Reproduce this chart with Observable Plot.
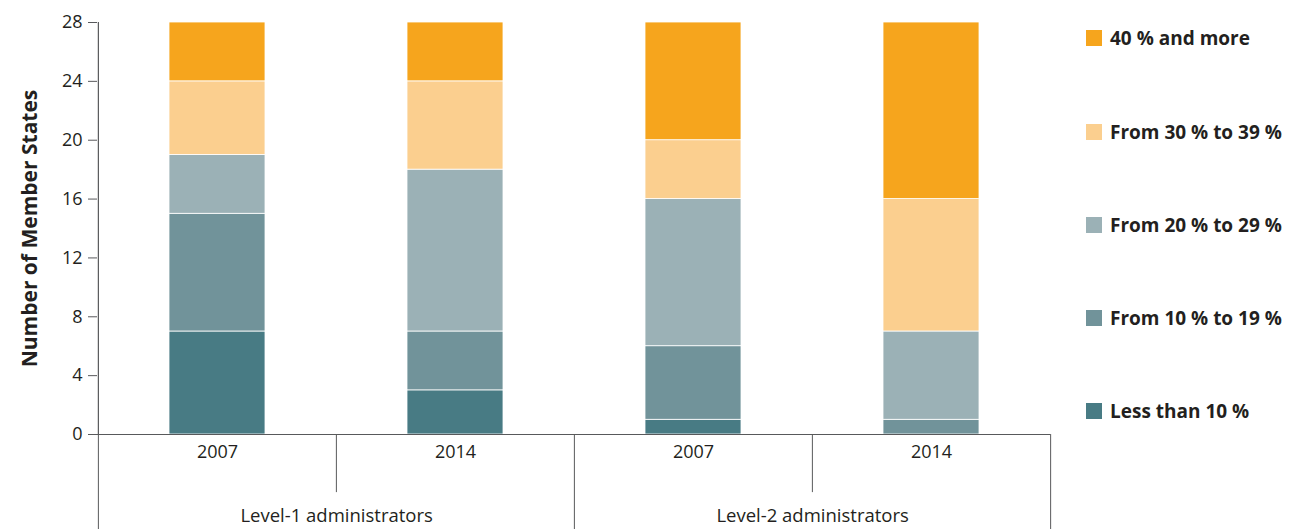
<!DOCTYPE html>
<html>
<head>
<meta charset="utf-8">
<script src="https://cdn.jsdelivr.net/npm/d3@7"></script>
<script src="https://cdn.jsdelivr.net/npm/@observablehq/plot@0.6"></script>
<style>
  html, body { margin: 0; padding: 0; background: #fff; }
  #wrap { position: relative; width: 1295px; height: 529px; font-family: "Open Sans", sans-serif; }
  #legend { position: absolute; left: 0; top: 0; }
  .item { position: absolute; left: 1086px; display: flex; align-items: center; font-weight: bold; font-size: 19px; color: #231f20; white-space: nowrap; letter-spacing: 0; }
  .sw { width: 16px; height: 16px; margin-right: 8px; flex: none; }
</style>
</head>
<body>
<div id="wrap"></div>
<script>
// ---- data ----
const groups = ["Level-1 administrators", "Level-2 administrators"];
const years = ["2007", "2014"];
const bandsTopDown = ["40 % and more", "From 30 % to 39 %", "From 20 % to 29 %", "From 10 % to 19 %", "Less than 10 %"];
const bandColors = ["#f6a51d", "#fbcf8f", "#9bb1b6", "#71939a", "#487b84"];
// values per column: L1-2007, L1-2014, L2-2007, L2-2014
const lessThan10 = [7, 3, 1, 0];
const from10to19 = [8, 4, 5, 1];
const from20to29 = [4, 11, 10, 6];
const from30to39 = [5, 6, 4, 9];
const over40     = [4, 4, 8, 12];
const yTicks = [0, 4, 8, 12, 16, 20, 24, 28];

// ---- build table ----
const columns = [];
groups.forEach(g => years.forEach(y => columns.push({key: g + "|" + y, group: g, year: y})));
const seriesByBand = {
  "Less than 10 %": lessThan10,
  "From 10 % to 19 %": from10to19,
  "From 20 % to 29 %": from20to29,
  "From 30 % to 39 %": from30to39,
  "40 % and more": over40
};
const bottomUp = bandsTopDown.slice().reverse();
const rows = [];
columns.forEach((c, i) => bottomUp.forEach(b => rows.push({key: c.key, band: b, value: seriesByBand[b][i]})));

const W = 1295, H = 529, mL = 97, mR = 245, mT = 22, mB = 95;
const halfStep = (W - mL - mR) / columns.length / 2;
const keys = columns.map(c => c.key);
const ink = "#231f20";
const lineCol = "#58595b";

const plot = Plot.plot({
  width: W, height: H,
  marginLeft: mL, marginRight: mR, marginTop: mT, marginBottom: mB,
  style: {fontFamily: "'Open Sans', sans-serif", fontSize: "18px", color: ink, background: "white"},
  x: {type: "band", domain: keys, padding: 0, axis: null},
  y: {domain: [0, 28], ticks: yTicks, label: null},
  color: {domain: bandsTopDown, range: bandColors},
  marks: [
    Plot.barY(rows, Plot.stackY({
      x: "key", y: "value", z: "band", fill: "band",
      order: bottomUp,
      insetLeft: 71, insetRight: 71,
      stroke: "white", strokeWidth: 0.8
    })),
    Plot.axisY({ticks: yTicks, tickSize: 9, tickPadding: 6, fontSize: 18, stroke: lineCol, color: ink, label: null}),
    Plot.ruleX([keys[0]], {x: d => d, dx: -halfStep, y1: 0, y2: 28, stroke: lineCol, strokeWidth: 1.2}),
    Plot.ruleY([0], {stroke: lineCol, strokeWidth: 1.2}),
    // category separators below axis
    Plot.ruleX([keys[0], keys[2]], {x: d => d, dx: -halfStep, y1: 0, y2: -6.5, stroke: lineCol, strokeWidth: 1}),
    Plot.ruleX([keys[3]], {x: d => d, dx: halfStep, y1: 0, y2: -6.5, stroke: lineCol, strokeWidth: 1}),
    Plot.ruleX([keys[1], keys[3]], {x: d => d, dx: -halfStep, y1: 0, y2: -3.95, stroke: lineCol, strokeWidth: 1}),
    // year labels
    Plot.text(columns, {x: "key", y: () => 0, dy: 18, text: "year", fontSize: 18, fill: ink}),
    // group labels
    Plot.text(columns.filter((c, i) => i % 2 === 0), {x: "key", y: () => 0, dx: halfStep, dy: 82, text: "group", fontSize: 18.5, fill: ink}),
    // y title
    Plot.text(["Number of Member States"], {frameAnchor: "left", textAnchor: "middle", rotate: -90, dx: -67, fontSize: 21, fontWeight: "bold", fill: ink})
  ]
});

const wrap = document.getElementById("wrap");
wrap.appendChild(plot);

// legend
const legend = document.createElement("div");
legend.id = "legend";
const legendY = [38, 132, 225, 318, 411];
bandsTopDown.forEach((b, i) => {
  const it = document.createElement("div");
  it.className = "item";
  it.style.top = (legendY[i] - 12) + "px";
  it.style.height = "24px";
  const sw = document.createElement("span");
  sw.className = "sw";
  sw.style.background = bandColors[i];
  const tx = document.createElement("span");
  tx.textContent = b;
  it.appendChild(sw); it.appendChild(tx);
  legend.appendChild(it);
});
wrap.appendChild(legend);
</script>
</body>
</html>
